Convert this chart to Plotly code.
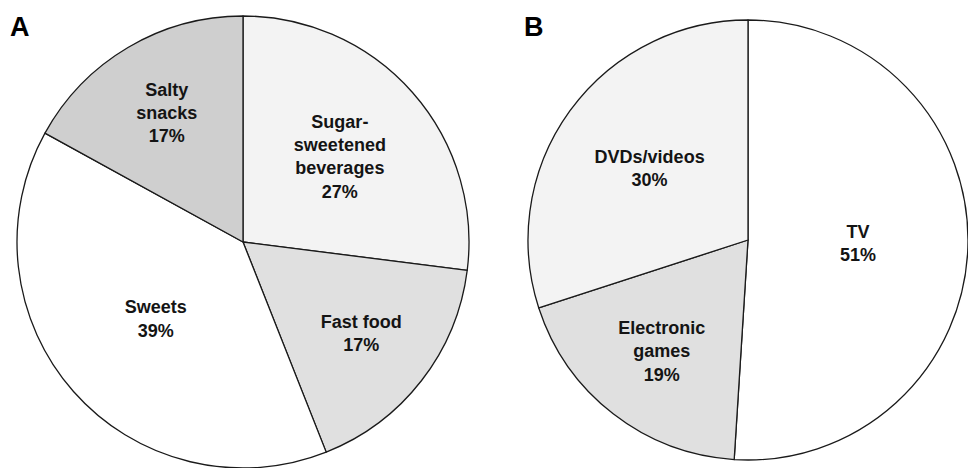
import plotly.graph_objects as go

W, H = 968, 468

labels_a = ["Sugar-<br>sweetened<br>beverages", "Fast food", "Sweets", "Salty<br>snacks"]
values_a = [27, 17, 39, 17]
colors_a = ["#f3f3f3", "#e0e0e0", "#ffffff", "#cfcfcf"]

labels_b = ["TV", "Electronic<br>games", "DVDs/videos"]
values_b = [51, 19, 30]
colors_b = ["#ffffff", "#e0e0e0", "#f3f3f3"]

panel_letters = ["A", "B"]

def dom(cx, cy, r):
    return dict(x=[(cx - r) / W, (cx + r) / W],
                y=[(H - (cy + r)) / H, (H - (cy - r)) / H])

font = dict(family="Liberation Sans, Arial, sans-serif", size=18, color="#141414")

fig = go.Figure()
fig.add_trace(go.Pie(
    labels=labels_a, values=values_a, sort=False, direction="clockwise", rotation=0,
    marker=dict(colors=colors_a, line=dict(color="#1a1a1a", width=1.3)),
    textinfo="label+percent", texttemplate="<b>%{label}<br>%{percent:.0%}</b>",
    textposition="inside", insidetextorientation="horizontal",
    textfont=font, domain=dom(243, 242, 226), showlegend=False, hoverinfo="skip",
))
fig.add_trace(go.Pie(
    labels=labels_b, values=values_b, sort=False, direction="clockwise", rotation=0,
    marker=dict(colors=colors_b, line=dict(color="#1a1a1a", width=1.3)),
    textinfo="label+percent", texttemplate="<b>%{label}<br>%{percent:.0%}</b>",
    textposition="inside", insidetextorientation="horizontal",
    textfont=font, domain=dom(748, 240, 220), showlegend=False, hoverinfo="skip",
))

for letter, x in zip(panel_letters, [8, 522]):
    fig.add_annotation(text="<b>%s</b>" % letter, x=x / W, y=1 - 10 / H, xref="paper", yref="paper",
                       xanchor="left", yanchor="top", showarrow=False,
                       font=dict(family="Liberation Sans, Arial, sans-serif", size=27, color="#000"))

fig.update_layout(width=W, height=H, margin=dict(l=0, r=0, t=0, b=0),
                  paper_bgcolor="white", plot_bgcolor="white",
                  uniformtext=dict(minsize=18, mode="show"))
fig.write_html("out.html")
